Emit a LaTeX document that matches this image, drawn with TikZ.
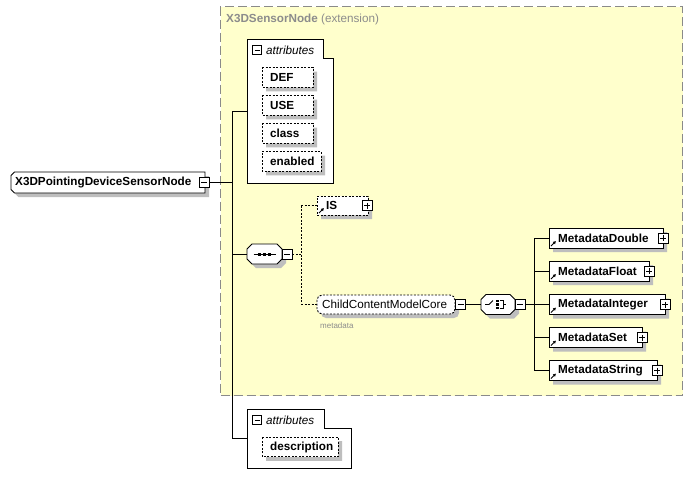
\documentclass[tikz,border=0pt]{standalone}
\usepackage{fontspec}
\setmainfont{Liberation Sans}
\usetikzlibrary{arrows.meta,calc}

\definecolor{extfill}{HTML}{FFFFCC}
\definecolor{extborder}{HTML}{8A8A8A}
\definecolor{shadowgray}{HTML}{BEBEBE}
\definecolor{titlegray}{HTML}{8C8C8C}

% chamfered outline of a named node: node, left chamfer, right chamfer, dx, dy (picture units, y downwards)
\newcommand{\chpath}[5]{($(#1.north west)+({#2+#4},{#5})$) -- ($(#1.north east)+({-#3+#4},{#5})$) -- ($(#1.north east)+({#4},{#3+#5})$) -- ($(#1.south east)+({#4},{-#3+#5})$) -- ($(#1.south east)+({-#3+#4},{#5})$) -- ($(#1.south west)+({#2+#4},{#5})$) -- ($(#1.south west)+({#4},{-#2+#5})$) -- ($(#1.north west)+({#4},{#2+#5})$) -- cycle}
\newcommand{\shapebox}[4][]{%
  \fill[shadowgray] \chpath{#2}{#3}{#4}{4}{4};
  \draw[fill=white, line width=0.9pt, #1] \chpath{#2}{#3}{#4}{0}{0};}
\newcommand{\roundbox}[2][]{%
  \fill[shadowgray, rounded corners=5pt] ($(#2.north west)+(4,4)$) rectangle ($(#2.south east)+(4,4)$);
  \draw[fill=white, line width=0.9pt, rounded corners=5pt, #1] (#2.north west) rectangle (#2.south east);}

\tikzset{
  every node/.style={font=\fontsize{11.7}{13}\selectfont\bfseries, text=black},
  lbl/.style={anchor=west, inner sep=0pt},
  area/.style={inner sep=0pt, outer sep=0pt, rectangle},
  extbox/.style={draw=extborder, fill=extfill, dash pattern=on 9pt off 4pt, line width=1pt, anchor=north west, inner sep=0pt},
  dashedge/.style={dash pattern=on 2pt off 1.5pt},
  tabline/.style={draw, fill=white, line width=0.9pt},
  minus/.style={draw, fill=white, minimum size=10pt, inner sep=0pt, line width=0.8pt,
     path picture={\draw[line width=0.9pt] ([xshift=2pt]path picture bounding box.west) -- ([xshift=-2pt]path picture bounding box.east);}},
  plus/.style={draw, fill=white, minimum size=10pt, inner sep=0pt, line width=0.8pt,
     path picture={\draw[line width=0.9pt] ([xshift=2pt]path picture bounding box.west) -- ([xshift=-2pt]path picture bounding box.east);
                   \draw[line width=0.9pt] ([yshift=-2pt]path picture bounding box.north) -- ([yshift=2pt]path picture bounding box.south);}},
  conn/.style={line width=0.9pt},
  dconn/.style={line width=0.9pt, dash pattern=on 2pt off 1.5pt},
  refarrow/.style={line width=0.9pt, -{Latex[length=3pt,width=3.5pt]}},
  hdr/.style={anchor=west, inner sep=0pt, font=\fontsize{11.7}{13}\selectfont\itshape},
}

\begin{document}
\begin{tikzpicture}[x=1pt,y=-1pt]
\useasboundingbox (0,0) rectangle (694,488);

% extension area
\node[extbox, minimum width=462pt, minimum height=389pt] (ext) at (220,6) {};
\node[lbl, text=titlegray] (exttitle) at (226,19) {X3DSensorNode \mdseries(extension)};

% main node
\node[area, anchor=north west, minimum width=194pt, minimum height=21pt] (main) at (11,172) {};
\shapebox{main}{3.5}{0}
\node[lbl] (main-t) at ([xshift=4pt]main.west) {X3DPointingDeviceSensorNode};
\node[minus] (mainpm) at (204.3,182.5) {};

% spine
\coordinate (sp1) at (232,111);
\coordinate (sp2) at (232,438.5);
\coordinate (sps) at (232,254);
\draw[conn] (mainpm.east) -- (mainpm.east -| sp1);
\draw[conn] (sp1) -- (sp2);

% attributes group A
\node[area, anchor=north west, minimum width=86pt, minimum height=144pt] (attrA) at (247,39) {};
\draw[tabline] (attrA.north west) -| ([xshift=-10pt,yshift=-19pt]attrA.north east) -| (attrA.south east) -- (attrA.south west) -- cycle;
\node[minus, minimum size=9pt] (attrApm) at (257,50) {};
\node[hdr] (attrAh) at (266,50) {attributes};
\draw[conn] (sp1) -- (attrA.west);

\foreach \nm/\yy/\ww/\tx in {def/77.5/51/DEF, use/105.5/51/USE, class/133.5/51/class, enabled/161.5/59/enabled} {
  \node[area, anchor=west, minimum width=\ww pt, minimum height=19.6pt] (\nm) at (262,\yy) {};
  \shapebox[dashedge]{\nm}{0}{0}
  \node[lbl] (\nm-t) at ([xshift=8pt]\nm.west) {\tx};
}

% sequence
\node[area, minimum width=35pt, minimum height=20pt] (seq) at (264.5,254) {};
\shapebox{seq}{5}{5}
\draw[line width=0.9pt] ([xshift=-11pt]seq.center) -- ([xshift=11pt]seq.center);
\foreach \dx in {-5,0,5} \fill ([xshift=\dx pt-1.5pt, yshift=-1.5pt]seq.center) rectangle ++(3pt,3pt);
\node[minus] (seqpm) at (287,254) {};
\draw[conn] (sps) -- (seq.west);

\coordinate (jx) at (301,254);
\coordinate (j1) at (301,205.5);
\coordinate (j2) at (301,304.5);
\draw[dconn] (seqpm.east) -- (jx);
\draw[dconn] (j1) -- (j2);

% IS
\node[area, anchor=west, minimum width=51pt, minimum height=19pt] (is) at (317,205.5) {};
\shapebox[dashedge]{is}{0}{0}
\node[lbl] (is-t) at ([xshift=9pt]is.west) {IS};
\draw[refarrow] ([xshift=2pt,yshift=2pt]is.south west) -- ++(5pt,5pt);
\node[plus] (ispm) at (367,205.5) {};
\draw[dconn] (j1) -- (is.west);

% ChildContentModelCore
\node[area, anchor=west, minimum width=138pt, minimum height=19pt] (ccmc) at (317,304.5) {};
\roundbox[dashedge]{ccmc}
\node[lbl, font=\fontsize{11.7}{13}\selectfont\mdseries] (ccmc-t) at ([xshift=5pt]ccmc.west) {ChildContentModelCore};
\node[minus] (ccmcpm) at (460.5,304.5) {};
\node[lbl, text=titlegray, font=\fontsize{8}{9}\selectfont] (ccmc-m) at (320,326) {metadata};
\draw[dconn] (j2) -- (ccmc.west);

% choice
\node[area, minimum width=34pt, minimum height=20pt] (choice) at (498,304.5) {};
\shapebox{choice}{5}{5}
\begin{scope}[shift={(choice.center)}, line width=0.9pt]
  \draw (-13,0) -- (-9,0) -- (-5,-4);
  \foreach \dy in {-3.5,0,3.5} \fill (-2,\dy-1.25) rectangle ++(2.5,2.5);
  \draw (2,-4) -- (5,-4) -- (5,4) -- (2,4);
  \draw (5,0) -- (8,0);
\end{scope}
\node[minus] (choicepm) at (520,304.5) {};
\draw[conn] (ccmcpm.east) -- (choice.west);

\coordinate (cx) at (534,304.5);
\coordinate (c1) at (534,238);
\coordinate (c5) at (534,370.5);
\draw[conn] (choicepm.east) -- (cx);
\draw[conn] (c1) -- (c5);

% metadata elements
\foreach \nm/\yy/\ww/\tx in {md/238/114/MetadataDouble, mf/271/100/MetadataFloat, mi/304.5/116/MetadataInteger, ms/337.5/93/MetadataSet, mstr/370.5/108/MetadataString} {
  \node[area, anchor=west, minimum width=\ww pt, minimum height=20pt] (\nm) at (549,\yy) {};
  \shapebox{\nm}{0}{0}
  \node[lbl] (\nm-t) at ([xshift=9pt]\nm.west) {\tx};
  \draw[refarrow] ([xshift=2pt,yshift=2pt]\nm.south west) -- ++(5pt,5pt);
  \node[plus] (\nm-pm) at (\nm.east) {};
  \draw[conn] (534,\yy) -- (\nm.west);
}

% attributes group B
\node[area, anchor=north west, minimum width=104pt, minimum height=59pt] (attrB) at (247,409) {};
\draw[tabline] (attrB.north west) -| ([xshift=-27pt,yshift=-19pt]attrB.north east) -| (attrB.south east) -- (attrB.south west) -- cycle;
\node[minus, minimum size=9pt] (attrBpm) at (257,420) {};
\node[hdr] (attrBh) at (266,420) {attributes};
\draw[conn] (sp2) -- (attrB.west);
\node[area, anchor=west, minimum width=76pt, minimum height=19.6pt] (desc) at (262,447) {};
\shapebox[dashedge]{desc}{0}{0}
\node[lbl] (desc-t) at ([xshift=8pt]desc.west) {description};
\end{tikzpicture}
\end{document}
